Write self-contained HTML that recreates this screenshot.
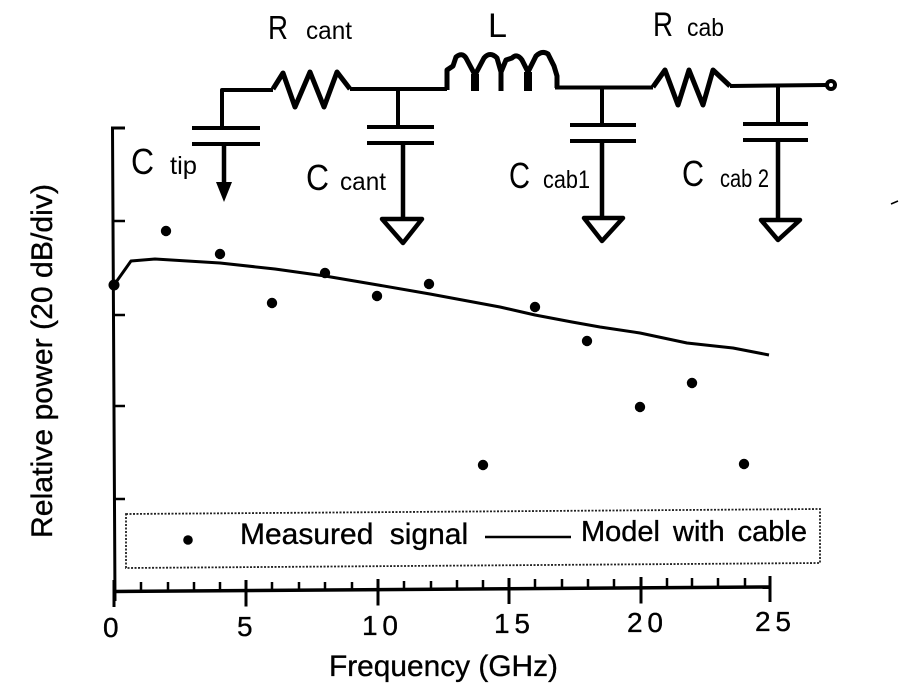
<!DOCTYPE html>
<html><head><meta charset="utf-8"><style>
html,body{margin:0;padding:0;background:#fff;width:914px;height:686px;overflow:hidden}
svg{display:block}
text{font-family:"Liberation Sans",sans-serif;fill:#000}
.b{stroke:#000;stroke-width:.35}
</style></head><body>
<svg width="914" height="686" viewBox="0 0 914 686" xmlns="http://www.w3.org/2000/svg">
<rect width="914" height="686" fill="#fff"/>
<!-- axes -->
<g fill="none" stroke="#000" stroke-width="3">
<path d="M125 128H112.500L115 601"/>
<path d="M113 221H125M113.500 315H125M114 406H125M114.500 499H125" stroke-width="2.500"/>
<path d="M114 591.500L770 587" stroke-width="3.500"/>
<path d="M114 580V607M246 580V606.500M378 579V605.500M509 578V604M641 577V603.500M770 576V602" stroke-width="3"/>
<path d="M141 582V591M168 582V591M194 582V591M220 582V591M272 582V590M299 582V590M325 582V590M352 582V590M404 581V590M431 581V589M457 580V589M483 580V589M535 579V588M562 579V588M588 579V588M614 579V588M667 578V587M692 578V587M718 578V587M745 578V587" stroke-width="2.500"/>
</g>
<!-- curve -->
<polyline fill="none" stroke="#000" stroke-width="3" stroke-linejoin="round" points="114,285 131,261 155,259 220,263 275,269 325,276 378,285 430,294 500,307 535,315 572,322 600,327 640,333 687,343 733,348 769,355"/>
<!-- data points -->
<g fill="#000">
<circle cx="114" cy="285" r="5.500"/><circle cx="166" cy="231" r="5.200"/><circle cx="220" cy="254" r="5.200"/>
<circle cx="272" cy="303" r="5.200"/><circle cx="325" cy="273" r="5.200"/><circle cx="377" cy="296" r="5.200"/>
<circle cx="429" cy="284" r="5.200"/><circle cx="483" cy="465" r="5.200"/><circle cx="535" cy="307" r="5.200"/>
<circle cx="587" cy="341" r="5.200"/><circle cx="640" cy="407" r="5.200"/><circle cx="692" cy="383" r="5.200"/>
<circle cx="744" cy="464" r="5.200"/><circle cx="188" cy="540" r="4.800"/>
</g>
<!-- legend -->
<path d="M126 514L820 509V563L126 568Z" fill="none" stroke="#222" stroke-width="1.800" stroke-dasharray="2 1.500"/>
<path d="M485 537H571" stroke="#000" stroke-width="2.500"/>
<!-- circuit -->
<g fill="none" stroke="#000" stroke-width="4" stroke-linejoin="round">
<path d="M222 128V90H273"/>
<path d="M273 89L283 73L295 107L310 72L324 107L337 72L350 89" stroke-width="5"/>
<path d="M350 89H447"/>
<path d="M447 90V70L453 66L456 57Q462 52 466 58L475 75M475 75L484 58Q490 51 497 58L501 72M501 72L506 60L512 58Q517 53 522 60L528 72M528 72L536 56Q542 50 548 54L554 66L557 76V88" stroke-width="5"/>
<path d="M475 74V91M528 72V91" stroke-width="8"/>
<path d="M501 70V91" stroke-width="5"/>
<path d="M555 87.500H653"/>
<path d="M653 87L665 70L678 105L689 70L703 105L713 70L730 86" stroke-width="5"/>
<path d="M730 86L826 85"/>
<path d="M398 88V127M602 87V125M778 86V124"/>
<path d="M192 128H260M192 144H260M367 127H434M367 143H434M570 125H636M570 141H636M743 124H808M743 140H808"/>
<path d="M224 144V186M403 143V219M602 141V218M778 140V221" stroke-width="4.500"/>
<path d="M382 219H422L403 243ZM584 218H623L602 241ZM761 220H800L778 240Z" stroke-width="4.500"/>
<circle cx="831" cy="85" r="4"/>
</g>
<path d="M216 182H232L224 202Z" fill="#000"/>
<path d="M891 204L898 201" stroke="#000" stroke-width="1.500"/>
<!-- circuit labels -->
<text x="268" y="39" font-size="33" textLength="20" lengthAdjust="spacingAndGlyphs">R</text>
<text x="306" y="39" font-size="25" textLength="46" lengthAdjust="spacingAndGlyphs">cant</text>
<text x="488" y="37" font-size="34" textLength="19" lengthAdjust="spacingAndGlyphs">L</text>
<text x="653" y="36" font-size="34" textLength="20" lengthAdjust="spacingAndGlyphs">R</text>
<text x="687" y="36" font-size="25" textLength="37" lengthAdjust="spacingAndGlyphs">cab</text>
<text x="131" y="174" font-size="36" textLength="23" lengthAdjust="spacingAndGlyphs">C</text>
<text x="170" y="174" font-size="25" textLength="27" lengthAdjust="spacingAndGlyphs">tip</text>
<text x="306" y="190" font-size="36" textLength="23" lengthAdjust="spacingAndGlyphs">C</text>
<text x="340" y="190" font-size="25" textLength="46" lengthAdjust="spacingAndGlyphs">cant</text>
<text x="509" y="188" font-size="36" textLength="21" lengthAdjust="spacingAndGlyphs">C</text>
<text x="543" y="188" font-size="25" textLength="47" lengthAdjust="spacingAndGlyphs">cab1</text>
<text x="682" y="186" font-size="36" textLength="22" lengthAdjust="spacingAndGlyphs">C</text>
<text x="720" y="187" font-size="25" textLength="49" lengthAdjust="spacingAndGlyphs">cab 2</text>
<!-- axis labels -->
<text class="b" x="103" y="637" font-size="28">0</text>
<text class="b" x="237" y="636" font-size="28">5</text>
<text class="b" x="362" y="635" font-size="28" textLength="36">10</text>
<text class="b" x="494" y="633" font-size="28" textLength="36">15</text>
<text class="b" x="627" y="632" font-size="28" textLength="36">20</text>
<text class="b" x="755" y="631" font-size="28" textLength="36">25</text>
<text class="b" x="329" y="676" font-size="30" textLength="229" lengthAdjust="spacingAndGlyphs">Frequency (GHz)</text>
<text class="b" transform="translate(52 538) rotate(-90)" font-size="30" textLength="354" lengthAdjust="spacingAndGlyphs">Relative power (20 dB/div)</text>
<text class="b" x="240" y="544" font-size="30" word-spacing="8">Measured signal</text>
<text class="b" x="581" y="541" font-size="29" word-spacing="5">Model with cable</text>
</svg>
</body></html>
